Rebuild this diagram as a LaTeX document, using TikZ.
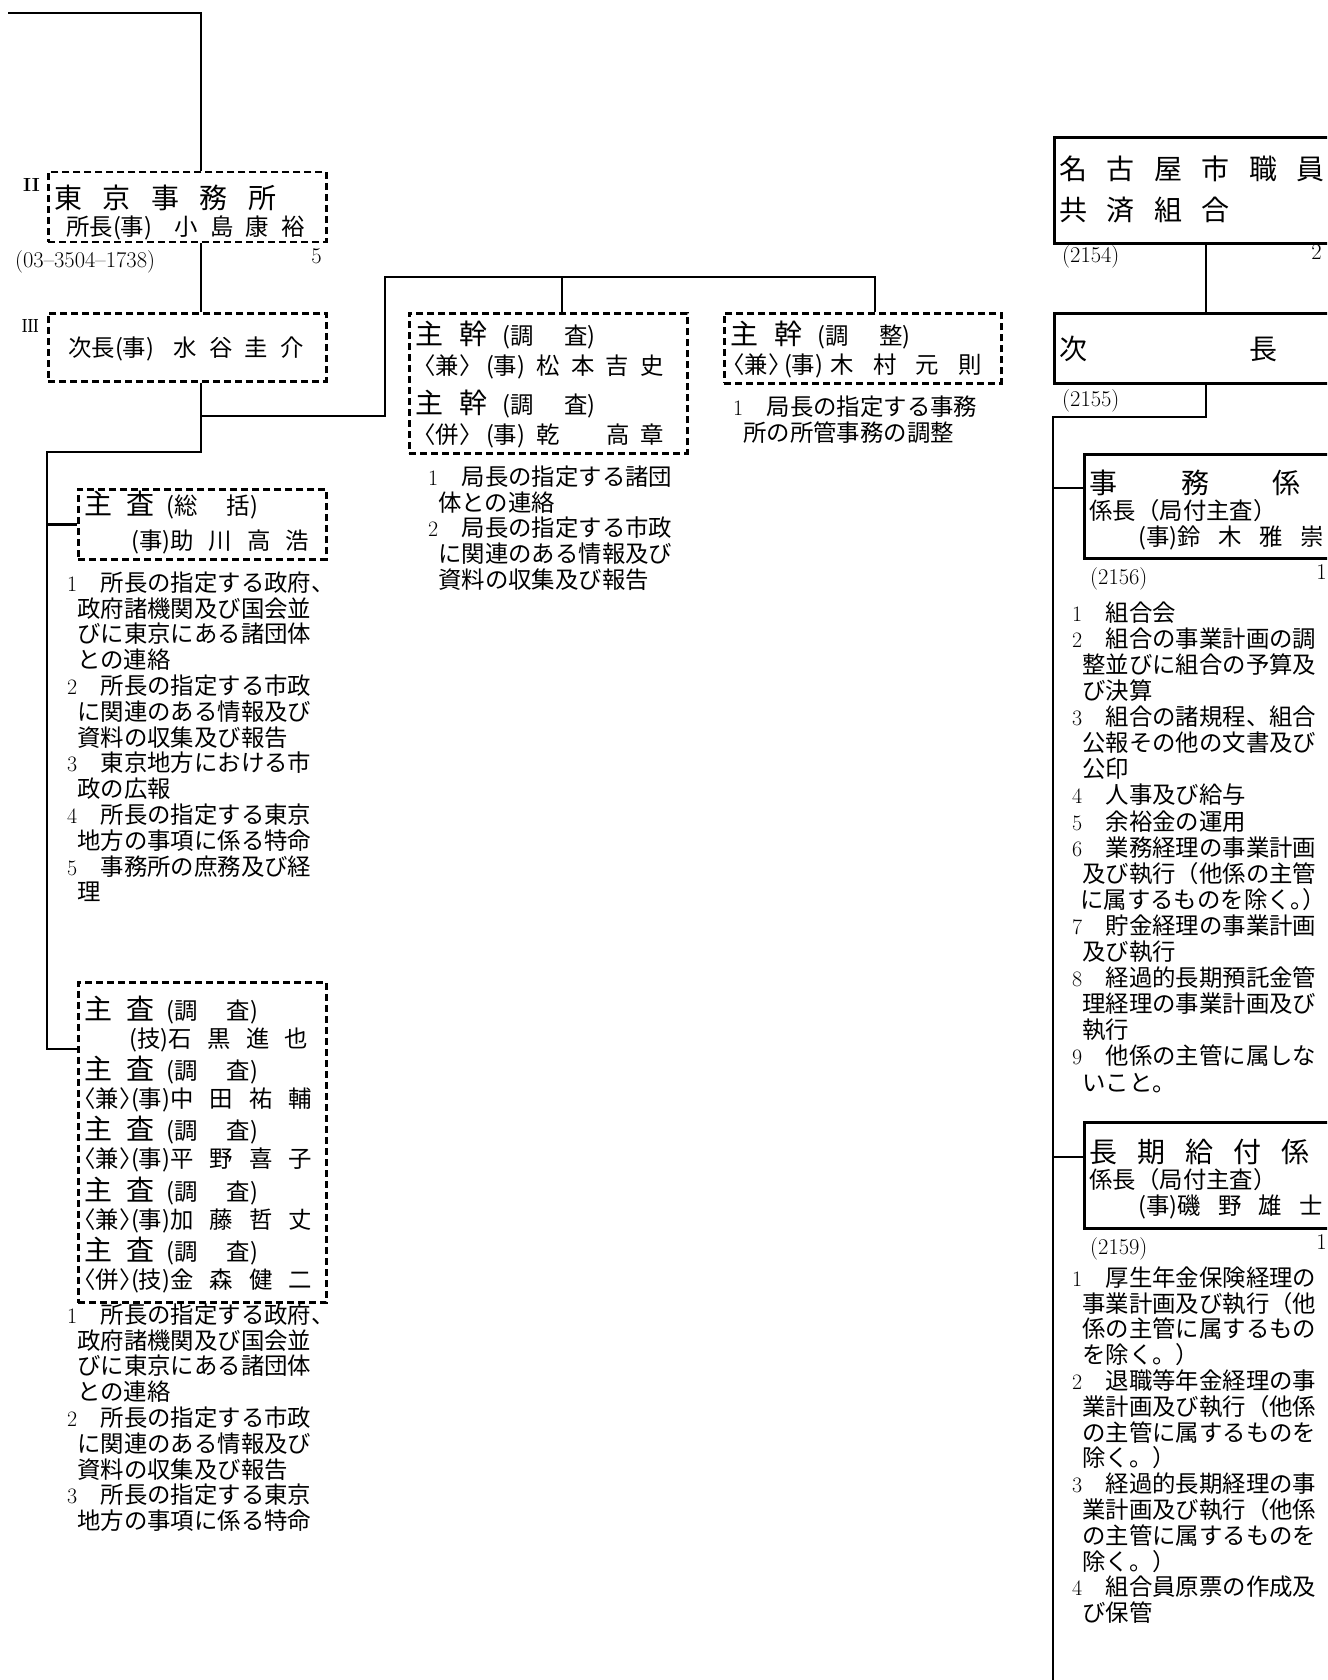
\documentclass[tikz,border=0pt]{standalone}
\usepackage{fontspec}
\newfontfamily\cjk{Noto Sans CJK JP}
\usepackage{tikz}
\newcommand{\jn}{\fontsize{23.4}{25.8}\selectfont}
\newcommand{\jl}{\fontsize{28}{30}\selectfont}
\newcommand{\gp}{\hspace{12.4pt}}
\newcommand{\lk}{\makebox[11.7pt][r]{〈}}
\newcommand{\rk}{\makebox[11.7pt][l]{〉}}
\newcommand{\nb}[1]{{\rmfamily\fontsize{22}{24}\selectfont #1}\hspace{23.4pt}}
\newcommand{\cl}{\hspace*{10pt}}
\newcommand{\tp}[1]{\rule{0pt}{#1}}
\newcommand{\bt}[1]{\rule[-#1]{0pt}{#1}}
\tikzstyle{dashbox} = [rectangle, draw, dash pattern=on 7pt off 4pt, line width=2.5pt, anchor=north west, align=left, inner xsep=6pt, inner ysep=0pt]
\tikzstyle{solidbox} = [rectangle, draw, line width=2.8pt, anchor=north west, align=left, inner xsep=5pt, inner ysep=0pt]
\tikzstyle{connector} = [draw, line width=2.8pt]
\tikzstyle{duties} = [anchor=north west, align=left, inner sep=0pt, font=\cjk\jn]
\tikzstyle{tel} = [anchor=base west, inner sep=0pt, font=\rmfamily\fontsize{22.5}{25}\selectfont]
\tikzstyle{rank} = [anchor=base east, inner sep=0pt, font=\rmfamily\fontsize{22.5}{25}\selectfont]
\tikzstyle{level} = [anchor=base west, inner sep=0pt, font=\rmfamily\bfseries\fontsize{19}{21}\selectfont]

\begin{document}
\begin{tikzpicture}[x=1pt, y=-1pt]
\useasboundingbox (0,0) rectangle (1327,1680);
\clip (0,0) rectangle (1327,1680);

\node [dashbox, text width=266pt, minimum height=70pt, font=\cjk\fontsize{23.4}{27}\selectfont] at (47,171) (box_1) {\tp{36.5pt}{\jl 東\hspace{20.5pt}京\hspace{20.5pt}事\hspace{20.5pt}務\hspace{20.5pt}所}\\
\hspace*{12pt}所長(事)\hspace{22pt}小\gp 島\gp 康\gp 裕\bt{6.5pt}};
\node [level] at (23,191.5) (lvl_2) {II};
\node [tel] at (15,267) (tel_1) {(03--3504--1738)};
\node [rank] at (322,263) (rank_1) {5};

\node [dashbox, text width=266pt, minimum height=68pt, font=\cjk\jn] at (47,312) (box_2) {\tp{43.5pt}\hspace*{14pt}次長(事)\hspace{19pt}水\gp 谷\gp 圭\gp 介\bt{24.5pt}};
\node [level] at (22,332.5) (lvl_3) {\scalebox{0.65}[1]{III}};

\node [dashbox, text width=266pt, minimum height=140pt, font=\cjk\fontsize{23.4}{30}\selectfont] at (408,312) (box_3) {\tp{31pt}{\jl 主\hspace{16pt}幹}\hspace{15pt}(調\hspace{31pt}査)\\
\hspace*{9pt}\lk 兼\rk\hspace{15pt}(事)\hspace{11pt}松\hspace{11.4pt}本\hspace{11.4pt}吉\hspace{11.4pt}史\\[9pt]
{\jl 主\hspace{16pt}幹}\hspace{15pt}(調\hspace{31pt}査)\\
\hspace*{9pt}\lk 併\rk\hspace{15pt}(事)\hspace{11pt}乾\hspace{46.4pt}高\hspace{11.4pt}章\bt{10pt}};

\node [dashbox, text width=265pt, minimum height=70pt, font=\cjk\fontsize{23.4}{29}\selectfont] at (723,312) (box_4) {\tp{31pt}{\jl 主\hspace{16pt}幹}\hspace{15pt}(調\hspace{31pt}整)\\
\hspace*{3pt}\lk 兼\rk\hspace{4pt}(事)\hspace{7pt}木\hspace{19.4pt}村\hspace{19.4pt}元\hspace{19.4pt}則\bt{10pt}};

\node [duties] at (428,464) (list_3) {\tp{21pt}\nb{1}局長の指定する諸団\\
\cl 体との連絡\\
\nb{2}局長の指定する市政\\
\cl に関連のある情報及び\\
\cl 資料の収集及び報告};

\node [duties] at (733,394) (list_4) {\tp{21pt}\nb{1}局長の指定する事務\\
\cl 所の所管事務の調整};

\node [dashbox, text width=236pt, minimum height=70pt, font=\cjk\fontsize{23.4}{35}\selectfont] at (77,488) (box_9) {\tp{25pt}{\jl 主\hspace{14pt}査}\hspace{12pt}(総\hspace{29.4pt}括)\\
\hspace*{47pt}(事)助\hspace{14.9pt}川\hspace{14.9pt}高\hspace{14.9pt}浩\bt{10pt}};

\node [duties] at (67,570) (list_9) {\tp{21pt}\nb{1}所長の指定する政府、\\
\cl 政府諸機関及び国会並\\
\cl びに東京にある諸団体\\
\cl との連絡\\
\nb{2}所長の指定する市政\\
\cl に関連のある情報及び\\
\cl 資料の収集及び報告\\
\nb{3}東京地方における市\\
\cl 政の広報\\
\nb{4}所長の指定する東京\\
\cl 地方の事項に係る特命\\
\nb{5}事務所の庶務及び経\\
\cl 理};

\node [dashbox, text width=236pt, minimum height=316pt, font=\cjk\fontsize{23.4}{28}\selectfont] at (77,981) (box_10) {\tp{37.5pt}{\jl 主\hspace{14pt}査}\hspace{12pt}(調\hspace{29.4pt}査)\\
\hspace*{45pt}(技)石\hspace{15.4pt}黒\hspace{15.4pt}進\hspace{15.4pt}也\\[3pt]
{\jl 主\hspace{14pt}査}\hspace{12pt}(調\hspace{29.4pt}査)\\
\lk 兼\rk(事)中\hspace{16pt}田\hspace{16pt}祐\hspace{16pt}輔\\[3pt]
{\jl 主\hspace{14pt}査}\hspace{12pt}(調\hspace{29.4pt}査)\\
\lk 兼\rk(事)平\hspace{16pt}野\hspace{16pt}喜\hspace{16pt}子\\[3pt]
{\jl 主\hspace{14pt}査}\hspace{12pt}(調\hspace{29.4pt}査)\\
\lk 兼\rk(事)加\hspace{16pt}藤\hspace{16pt}哲\hspace{16pt}丈\\[3pt]
{\jl 主\hspace{14pt}査}\hspace{12pt}(調\hspace{29.4pt}査)\\
\lk 併\rk(技)金\hspace{16pt}森\hspace{16pt}健\hspace{16pt}二\bt{14.5pt}};

\node [duties] at (67,1302) (list_10) {\tp{21pt}\nb{1}所長の指定する政府、\\
\cl 政府諸機関及び国会並\\
\cl びに東京にある諸団体\\
\cl との連絡\\
\nb{2}所長の指定する市政\\
\cl に関連のある情報及び\\
\cl 資料の収集及び報告\\
\nb{3}所長の指定する東京\\
\cl 地方の事項に係る特命};

\node [solidbox, text width=290pt, minimum height=106pt, font=\cjk\fontsize{28}{41}\selectfont] at (1053,136) (box_5) {\tp{42pt}名\hspace{19.4pt}古\hspace{19.4pt}屋\hspace{19.4pt}市\hspace{19.4pt}職\hspace{19.4pt}員\\
共\hspace{19.4pt}済\hspace{19.4pt}組\hspace{19.4pt}合\bt{23pt}};
\node [tel] at (1062,262) (tel_5) {(2154)};
\node [rank] at (1322,260) (rank_5) {2};

\node [solidbox, text width=290pt, minimum height=70pt, font=\cjk\jl] at (1053,312) (box_6) {\tp{46pt}次\hspace{162pt}長\bt{24pt}};
\node [tel] at (1062,406) (tel_6) {(2155)};

\node [solidbox, text width=260pt, minimum height=104pt, font=\cjk\fontsize{23.4}{26}\selectfont] at (1083,453) (box_7) {\tp{39pt}{\jl 事\hspace{64pt}務\hspace{63pt}係}\\
係長（局付主査）\\
\hspace*{49pt}(事)鈴\hspace{17.4pt}木\hspace{17.4pt}雅\hspace{17.4pt}崇\bt{13pt}};
\node [tel] at (1090,584) (tel_7) {(2156)};
\node [rank] at (1327,579) (rank_7) {1};

\node [duties, font=\cjk\fontsize{23.4}{26.1}\selectfont] at (1072,600) (list_7) {\tp{21pt}\nb{1}組合会\\
\nb{2}組合の事業計画の調\\
\cl 整並びに組合の予算及\\
\cl び決算\\
\nb{3}組合の諸規程、組合\\
\cl 公報その他の文書及び\\
\cl 公印\\
\nb{4}人事及び給与\\
\nb{5}余裕金の運用\\
\nb{6}業務経理の事業計画\\
\cl 及び執行（他係の主管\\
\hspace*{8pt}に属するものを除く\makebox[11.7pt][l]{。}）\\
\nb{7}貯金経理の事業計画\\
\cl 及び執行\\
\nb{8}経過的長期預託金管\\
\cl 理経理の事業計画及び\\
\cl 執行\\
\nb{9}他係の主管に属しな\\
\cl いこと。};

\node [solidbox, text width=260pt, minimum height=106pt, font=\cjk\fontsize{23.4}{26}\selectfont] at (1083,1121) (box_8) {\tp{40pt}{\jl 長\hspace{20pt}期\hspace{20pt}給\hspace{20pt}付\hspace{20pt}係}\\
係長（局付主査）\\
\hspace*{49pt}(事)磯\hspace{17.1pt}野\hspace{17.1pt}雄\hspace{17.1pt}士\bt{14pt}};
\node [tel] at (1090,1254) (tel_8) {(2159)};
\node [rank] at (1327,1249) (rank_8) {1};

\node [duties] at (1072,1265) (list_8) {\tp{21pt}\nb{1}厚生年金保険経理の\\
\cl 事業計画及び執行（他\\
\cl 係の主管に属するもの\\
\cl を除く。）\\
\nb{2}退職等年金経理の事\\
\cl 業計画及び執行（他係\\
\cl の主管に属するものを\\
\cl 除く。）\\
\nb{3}経過的長期経理の事\\
\cl 業計画及び執行（他係\\
\cl の主管に属するものを\\
\cl 除く。）\\
\nb{4}組合員原票の作成及\\
\cl び保管};

\coordinate (c_top) at (8,13);
\coordinate (c_1) at (201,13);
\coordinate (c_2) at (201,416);
\coordinate (c_3) at (385,416);
\coordinate (c_4) at (385,277);
\coordinate (c_5) at (875,277);
\coordinate (c_6) at (562,277);
\coordinate (c_7) at (201,452);
\coordinate (c_8) at (47,452);
\coordinate (c_9) at (47,1049);

\path [connector] (c_top) -- (c_1) -- (c_1 |- box_1.north);
\path [connector] (c_1 |- box_1.south) -- (c_1 |- box_2.north);
\path [connector] (c_1 |- box_2.south) -- (c_2) -- (c_3) -- (c_4) -- (c_5) -- (c_5 |- box_4.north);
\path [connector] (c_6) -- (c_6 |- box_3.north);
\path [connector] (c_2) -- (c_7) -- (c_8) -- (c_9) -- (c_9 -| box_10.west);
\path [connector] (c_8 |- box_9.west) -- (box_9.west);

\coordinate (c_10) at (1206,417);
\coordinate (c_11) at (1053,417);
\coordinate (c_12) at (1053,1690);
\coordinate (c_13) at (1053,488);
\coordinate (c_14) at (1053,1157);

\path [connector] (c_10 |- box_5.south) -- (c_10 |- box_6.north);
\path [connector] (c_10 |- box_6.south) -- (c_10) -- (c_11) -- (c_12);
\path [connector] (c_13) -- (c_13 -| box_7.west);
\path [connector] (c_14) -- (c_14 -| box_8.west);

\end{tikzpicture}
\end{document}
